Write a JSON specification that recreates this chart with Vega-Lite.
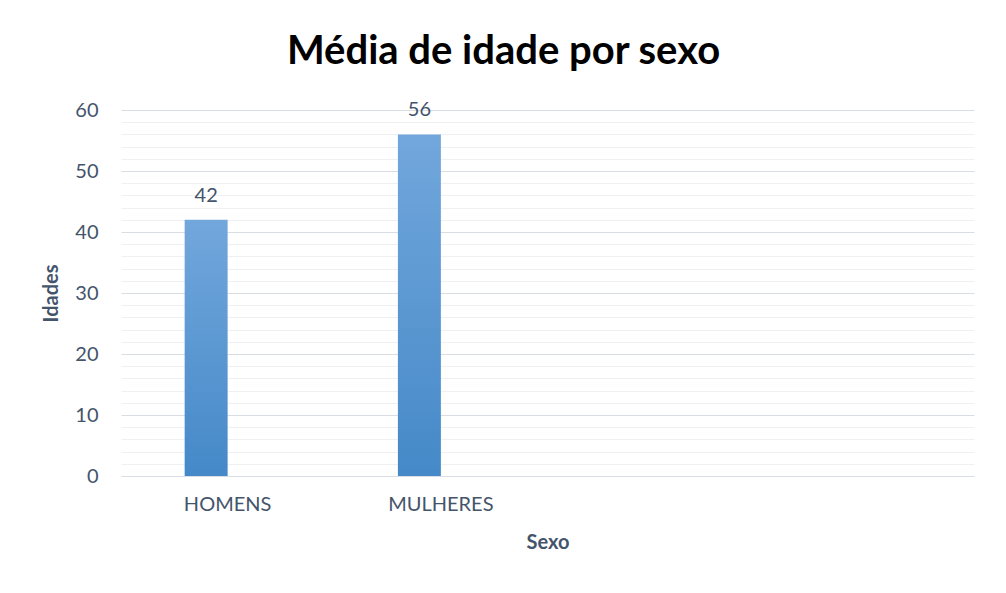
{
  "$schema": "https://vega.github.io/schema/vega-lite/v6.json",
  "width": 853,
  "height": 366,
  "autosize": {"type": "none"},
  "padding": {"left": 121, "top": 110, "right": 32, "bottom": 117},
  "background": "white",
  "title": {
    "text": "Média de idade por sexo",
    "font": "Lato",
    "fontSize": 40,
    "fontWeight": "bold",
    "color": "#000000",
    "anchor": "middle",
    "frame": "group",
    "dx": -44,
    "offset": 28
  },
  "data": {
    "values": [
      {"sexo": "HOMENS", "serie": "Média", "idade": 42},
      {"sexo": "MULHERES", "serie": "Média", "idade": 56}
    ]
  },
  "encoding": {
    "x": {
      "field": "sexo",
      "type": "nominal",
      "sort": null,
      "scale": {"domain": ["HOMENS", "MULHERES", "c3", "c4"], "paddingInner": 0.597, "paddingOuter": 0.2985},
      "title": "Sexo",
      "axis": {
        "labelExpr": "datum.value === 'HOMENS' || datum.value === 'MULHERES' ? datum.label : ''",
        "labelAngle": 0,
        "domain": false,
        "ticks": false,
        "grid": false,
        "labelFont": "Lato",
        "labelFontSize": 20,
        "labelColor": "#44546a",
        "labelPadding": 18,
        "titleFont": "Lato",
        "titleFontSize": 20,
        "titleFontWeight": "bold",
        "titleColor": "#44546a",
        "titlePadding": 18
      }
    },
    "xOffset": {
      "field": "serie",
      "type": "nominal",
      "scale": {"domain": ["Média", "Outra"], "paddingInner": 0, "paddingOuter": 0}
    },
    "y": {
      "field": "idade",
      "type": "quantitative",
      "scale": {"domain": [0, 60], "nice": false},
      "title": "Idades",
      "axis": {
        "values": [0, 2, 4, 6, 8, 10, 12, 14, 16, 18, 20, 22, 24, 26, 28, 30, 32, 34, 36, 38, 40, 42, 44, 46, 48, 50, 52, 54, 56, 58, 60],
        "labelExpr": "datum.value % 10 === 0 ? datum.label : ''",
        "domain": false,
        "ticks": false,
        "grid": true,
        "gridColor": {"condition": {"test": "datum.value % 10 === 0", "value": "#d9dde4"}, "value": "#eef0f3"},
        "gridWidth": 1.2,
        "labelFont": "Lato",
        "labelFontSize": 20,
        "labelColor": "#44546a",
        "labelPadding": 23,
        "titleFont": "Lato",
        "titleFontSize": 20,
        "titleFontWeight": "bold",
        "titleColor": "#44546a",
        "titlePadding": 13
      }
    }
  },
  "layer": [
    {
      "mark": {
        "type": "bar",
        "color": {
          "gradient": "linear",
          "x1": 0, "y1": 0, "x2": 0, "y2": 1,
          "stops": [
            {"offset": 0, "color": "#72a7dc"},
            {"offset": 1, "color": "#4589c8"}
          ]
        }
      }
    },
    {
      "mark": {
        "type": "text",
        "font": "Lato",
        "fontSize": 20,
        "color": "#44546a",
        "baseline": "alphabetic",
        "dy": -18
      },
      "encoding": {"text": {"field": "idade", "type": "quantitative"}}
    }
  ],
  "config": {"view": {"stroke": null}}
}
